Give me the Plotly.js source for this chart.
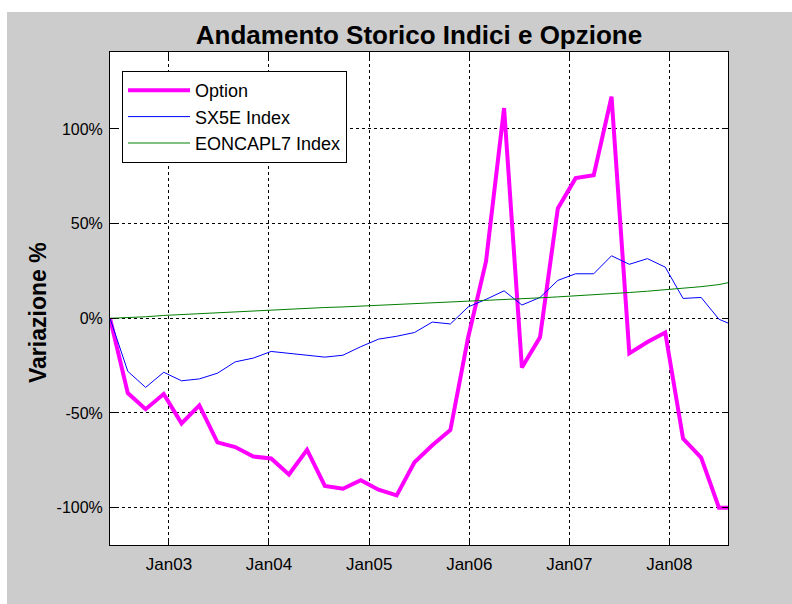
<!DOCTYPE html>
<html>
<head>
<meta charset="utf-8">
<script src="https://cdn.plot.ly/plotly-3.0.1.min.js"></script>
<style>
html,body{margin:0;padding:0;background:#ffffff;}
#wrap{position:relative;width:792px;height:604px;background:#ffffff;overflow:hidden;}
#figbg{position:absolute;left:7px;top:12px;width:785px;height:592px;background:#cccccc;}
#chart{position:absolute;left:0;top:0;width:792px;height:604px;}
</style>
</head>
<body>
<div id="wrap"><div id="figbg"></div><div id="chart"></div></div>
<script>
const dates = ["2002-05-31","2002-08-04","2002-10-08","2002-12-13","2003-02-16","2003-04-22",
  "2003-06-27","2003-08-31","2003-11-05","2004-01-09","2004-03-14","2004-05-19",
  "2004-07-23","2004-09-27","2004-12-01","2005-02-04","2005-04-11","2005-06-15",
  "2005-08-19","2005-10-24","2005-12-28","2006-03-03","2006-05-08","2006-07-12",
  "2006-09-16","2006-11-20","2007-01-24","2007-03-31","2007-06-04","2007-08-08",
  "2007-10-13","2007-12-17","2008-02-20","2008-04-26","2008-06-30","2008-08-02"];

const optionVals = [0, -39.5, -48, -40, -55.5, -46, -65.5, -68, -73, -74, -82.5, -69.5,
  -88.5, -90, -85.5, -90.5, -93.5, -76, -67, -59, -10, 30, 111, -26,
  -10, 58, 74, 75.5, 117, -18.5, -12.5, -7.5, -63.5, -73.5, -100, -100];

const sx5eVals = [0, -28, -36.5, -28.5, -33, -32, -29, -23, -21, -17.5, -18.5, -19.5,
  -20.5, -19.5, -15, -11, -9.5, -7.5, -2, -3, 6, 10, 14.5, 7,
  11, 20, 23.5, 23.5, 33, 28.5, 31.5, 27, 10.5, 11, -0.5, -2.5];

const eoncaplVals = [0, 0.3, 0.8, 1.5, 2.0, 2.5, 3.0, 3.5, 4.0, 4.4, 4.9, 5.3,
  5.7, 6.0, 6.4, 6.8, 7.2, 7.6, 8.0, 8.4, 8.8, 9.3, 9.8, 10.3,
  10.8, 11.3, 11.8, 12.4, 13.0, 13.6, 14.3, 15.0, 15.8, 16.7, 17.8, 18.8];

const seriesNames = ["Option", "SX5E Index", "EONCAPL7 Index"];
const xTickVals = ["2003-01-01","2004-01-01","2005-01-01","2006-01-01","2007-01-01","2008-01-01"];
const xTickText = ["Jan03","Jan04","Jan05","Jan06","Jan07","Jan08"];
const yTickVals = [-100, -50, 0, 50, 100];
const yTickText = ["-100%", "-50%", "0%", "50%", "100%"];

const traces = [
  {x: dates, y: optionVals, name: seriesNames[0], type: "scatter", mode: "lines",
   line: {color: "#ff00ff", width: 4}, legendgroup: "a"},
  {x: dates, y: sx5eVals, name: seriesNames[1], type: "scatter", mode: "lines",
   line: {color: "#0000ff", width: 1}, legendgroup: "b"},
  {x: dates, y: eoncaplVals, name: seriesNames[2], type: "scatter", mode: "lines",
   line: {color: "#008000", width: 1}, legendgroup: "c"}
];

const FONT = "Liberation Sans, Arial, sans-serif";

const layout = {
  width: 792, height: 604,
  margin: {l: 110, r: 64, t: 52, b: 59, pad: 0},
  paper_bgcolor: "rgba(0,0,0,0)",
  plot_bgcolor: "#ffffff",
  showlegend: true,
  title: {text: "Andamento Storico Indici e Opzione",
    font: {family: FONT, size: 26, color: "#000000", weight: "bold"},
    x: 0.5, xref: "paper", xanchor: "center", y: 1 - 35/604, yref: "container", yanchor: "middle"},
  xaxis: {
    type: "date", range: ["2002-05-31", "2008-08-02"],
    tickmode: "array", tickvals: xTickVals, ticktext: xTickText,
    tickfont: {family: FONT, size: 17, color: "#000000"},
    ticks: "inside", ticklen: 6, tickcolor: "#000000", tickwidth: 1,
    showline: true, linecolor: "#000000", linewidth: 1, mirror: "ticks",
    showgrid: true, gridcolor: "#000000", gridwidth: 1, griddash: "3px,3px",
    zeroline: false, ticklabelstandoff: 4
  },
  yaxis: {
    range: [-119.7, 140.6],
    tickmode: "array", tickvals: yTickVals, ticktext: yTickText,
    tickfont: {family: FONT, size: 16, color: "#000000"},
    ticks: "inside", ticklen: 6, tickcolor: "#000000", tickwidth: 1,
    showline: true, linecolor: "#000000", linewidth: 1, mirror: "ticks",
    showgrid: true, gridcolor: "#000000", gridwidth: 1, griddash: "3px,3px",
    zeroline: false, ticklabelstandoff: 3
  },
  legend: {
    x: 12/618, y: (545-71)/493, xanchor: "left", yanchor: "top",
    bgcolor: "#ffffff", bordercolor: "#000000", borderwidth: 1,
    font: {family: FONT, size: 18, color: "#000000"},
    tracegroupgap: 2, traceorder: "normal", itemwidth: 62
  },
  annotations: [
    {text: "Variazione %", textangle: -90, xref: "paper", yref: "paper",
     x: (38-110)/618, y: (545-313)/493, xanchor: "center", yanchor: "middle", showarrow: false,
     font: {family: FONT, size: 23, color: "#000000", weight: "bold"}}
  ]
};

Plotly.newPlot("chart", traces, layout, {displayModeBar: false, staticPlot: true});
</script>
</body>
</html>
